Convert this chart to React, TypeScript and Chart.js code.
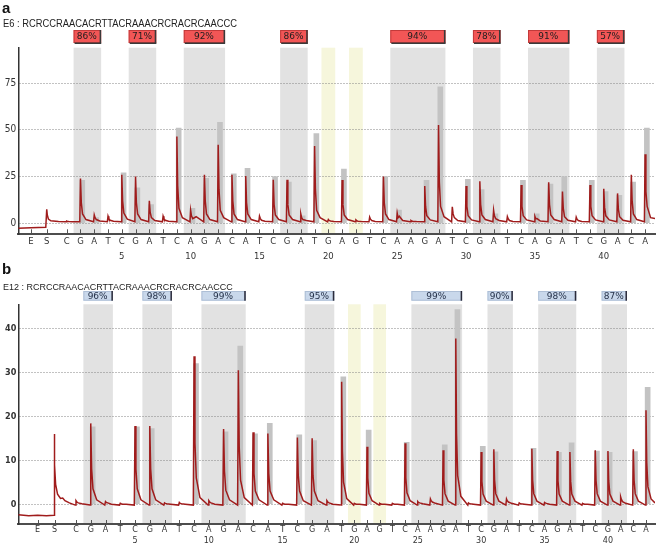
import React, { useEffect, useRef } from 'react';
import { Chart, registerables } from 'chart.js';

Chart.register(...registerables);

// ---------------- data ----------------
const DISPENSATIONS = ['C','G','A','T','C','G','A','T','C','A','G','A','C','A','T','C','G','A','T','G','A','G','T','C','A','A','G','A','T','C','G','A','T','C','A','G','A','T','C','G','A','C','A'];
const PRE_LABELS = ['E', 'S'];
const PRE_POS = [-1.6, -0.45];
const NUMBERED_EVERY = 5;

// dispensation ranges of the shaded (variable) positions
const BANDS: number[][] = [[2, 3], [6, 7], [10, 12], [17, 18], [25, 28], [31, 32], [35, 37], [40, 41]];
const YELLOW_BANDS = [20, 22];

const HEADER_A = 'E6 : RCRCCRAACACRTTACRAAACRCRACRCAACCC';
const HEADER_B = 'E12 : RCRCCRAACACRTTACRAAACRCRACRCAACCC';
const PCT_A = [86, 71, 92, 86, 94, 78, 91, 57];
const PCT_B = [96, 98, 99, 95, 99, 90, 98, 87];

const Y_TICKS_A = [0, 25, 50, 75];
const Y_TICKS_B = [0, 10, 20, 30, 40];

// expected (histogram) heights per dispensation
const HIST_A = [0, 23, 3, 0, 27, 19, 10, 0, 51, 8, 24, 54, 26.5, 29.4, 0, 25, 22, 4, 48, 0, 29, 0, 0, 25, 7, 0, 23, 73, 0, 23.5, 18, 5, 0, 23, 5, 21, 25, 0, 23, 17, 15, 22, 51];
const HIST_B = [0, 17.6, 0, 0, 17.6, 17.2, 0, 0, 32, 0, 16.5, 36, 16, 18.4, 0, 15.8, 14.5, 0, 29, 0, 16.9, 0, 0, 14.1, 0, 0, 13.5, 44.3, 0, 13.2, 11.9, 0, 0, 12.7, 0, 11.8, 14, 0, 12.1, 11.8, 0, 12, 26.6];

// trace per dispensation: [peak, fall 1, fall 2, tail]
const PEAKS_A = [
  [1.2, 1.0, 0.9, 0.8], [24, 11, 5, 2], [4.5, 3, 2, 1.2], [3.8, 2.5, 1.6, 1.1], [26, 12, 5.5, 2.2],
  [25, 11, 5, 2], [12, 6, 3, 1.5], [3.8, 2.5, 1.6, 1.1], [46.4, 20, 8, 3], [7, 4, 2.5, 3.5],
  [26, 12, 5, 2], [42, 18, 7, 3], [26, 12, 5, 2], [25.3, 11, 5, 2], [3.8, 2.5, 1.6, 1.1],
  [23.3, 10, 4.5, 2], [23.3, 10, 4.5, 2], [5, 3, 2, 1.5], [41.4, 18, 7, 3], [2, 1.5, 1.2, 1],
  [23.2, 10, 4.5, 2], [1.8, 1.4, 1.1, 0.9], [3.3, 2.2, 1.5, 1], [25, 11, 5, 2], [5.4, 3, 3.8, 1.5],
  [1.5, 1.2, 1, 0.9], [20, 9, 4, 1.8], [52.6, 22, 9, 3.5], [8.8, 5, 3, 1.5], [20, 9, 4, 1.8],
  [22.5, 10, 4.5, 2], [7, 4, 2.5, 1.5], [3.6, 2.4, 1.5, 1], [20.5, 9, 4, 1.8], [3.6, 2.4, 2.5, 1.2],
  [22, 10, 4.5, 2], [17, 8, 3.5, 1.6], [3.3, 2.2, 1.5, 1], [20.5, 9, 4, 1.8], [18.5, 8.5, 4, 1.8],
  [16, 7.5, 3.5, 1.6], [26, 12, 5, 2], [37, 17, 9, 3],
];
const PEAKS_B = [
  [0.8, 0.5, 0.3, 0.1], [18.4, 8, 3.5, 1], [0.6, 0.4, 0.3, 0], [0.2, 0.1, 0, 0], [17.8, 8, 3.5, 1],
  [17.8, 8, 3.5, 1], [0.3, 0.2, 0.1, 0], [0.4, 0.2, 0.1, 0], [33.7, 14, 6, 1.5], [0.8, 0.5, 0.3, 0],
  [17.1, 7.5, 3.2, 1], [30.5, 13, 5.5, 1.5], [16.4, 7, 3, 1], [16.1, 7, 3, 1], [0.2, 0.1, 0, 0],
  [15.2, 6.5, 3, 0.8], [15, 6.5, 3, 0.8], [0.8, 0.5, 0.3, 0], [27.9, 12, 5, 1.3], [0.2, 0.1, 0, 0],
  [13.1, 6, 2.5, 0.8], [0.2, 0.1, 0, 0], [0.2, 0.1, 0, 0], [13.9, 6, 2.6, 0.8], [0.6, 0.4, 0.3, 0.1],
  [1.2, 0.8, 0.5, 0.2], [12.3, 5.5, 2.4, 0.7], [37.7, 16, 6.5, 1.8], [0.3, 0.2, 0.1, 0], [11.9, 5.2, 2.3, 0.7],
  [12.5, 5.5, 2.4, 0.7], [1.2, 0.8, 0.5, 0.2], [0.3, 0.2, 0.1, 0], [12.6, 5.5, 2.4, 0.7], [0.4, 0.3, 0.2, 0],
  [12.1, 5.3, 2.3, 0.7], [11.9, 5.2, 2.3, 0.7], [0.2, 0.1, 0, 0], [12.3, 5.4, 2.4, 0.7], [12.1, 5.3, 2.3, 0.7],
  [1.7, 1.1, 0.6, 0.2], [12.5, 5.5, 2.4, 0.7], [21.4, 9.5, 4, 1.2],
];
// trace before the first dispensation (E, S) and after the last one: [position, value]
const PRE_A = [[-2.515, -2.6], [-1.6, -2.4], [-0.52, -2.1], [-0.45, 7.5], [-0.41, 4.5], [-0.33, 2.3], [-0.15, 1.3], [0.4, 0.9]];
const END_A = [43.72, 2.5];
const BASE_A = 0.8;
const PRE_B = [[-2.909, -2.4], [-2.2, -2.6], [-1.6, -2.5], [-1.0, -2.6], [-0.49, -2.5], [-0.47, 16], [-0.44, 9], [-0.38, 4.5], [-0.25, 2.3], [-0.05, 1.3], [0.1, 1.4], [0.25, 0.8], [0.55, 0.3]];
const END_B = [43.71, 0.3];
const BASE_B = -0.2;

// ---------------- helpers ----------------
const BAR_SHIFT = 0.13;
const TRACE_COLOR = '#a01c1c';
const BAR_COLOR = '#c3c3c3';
const DISP_POS = DISPENSATIONS.map((_, k) => k + 1);

function buildTrace(pre: number[][], peaks: number[][], base: number, end: number[]) {
  const pts = pre.map(([x, y]) => ({ x, y }));
  peaks.forEach(([p, d1, d2, d3], k) => {
    const i = k + 1;
    pts.push({ x: i - 0.05, y: base }, { x: i, y: p }, { x: i + 0.06, y: d1 }, { x: i + 0.15, y: d2 }, { x: i + 0.4, y: d3 });
  });
  pts.push({ x: end[0], y: end[1] });
  return pts;
}

// label of tick number `index` (E, S, then the dispensation letters; every 5th also numbered)
function labelAt(index: number): any {
  if (index < PRE_LABELS.length) return PRE_LABELS[index];
  const d = index - PRE_LABELS.length + 1;
  const letter = DISPENSATIONS[d - 1] ?? '';
  return d % NUMBERED_EVERY === 0 ? [letter, String(d)] : letter;
}

function xAxis(min: number, max: number, ticks: number[], h: number, size: number, lh: number, display = true) {
  return {
    type: 'linear',
    position: 'bottom',
    display,
    offset: false,
    min,
    max,
    grid: { display: false, drawTicks: false, tickLength: 0, offset: false },
    border: { display: true, color: '#4d4d4d', width: 2 },
    afterBuildTicks: (s: any) => { s.ticks = ticks.map((v) => ({ value: v })); },
    afterFit: (s: any) => { s.height = h; },
    ticks: {
      autoSkip: false,
      maxRotation: 0,
      minRotation: 0,
      padding: 0,
      color: '#333',
      font: { family: "'DejaVu Sans', sans-serif", size, lineHeight: lh / size },
      callback: (_v: number, i: number) => labelAt(i),
    },
  };
}

function yAxis(min: number, max: number, ticks: number[], font: any) {
  return {
    type: 'linear',
    position: 'left',
    min,
    max,
    grid: { display: true, color: '#858585', lineWidth: 1, drawTicks: false, tickLength: 0 },
    border: { display: true, color: '#333', width: 1.5, dash: [1, 2] },
    afterBuildTicks: (s: any) => { s.ticks = ticks.map((v) => ({ value: v })); },
    afterFit: (s: any) => { s.width = 18.3; },
    ticks: { padding: 2, color: '#333', font, autoSkip: false },
  };
}

function decor(ps: any) {
  return {
    id: 'decor',
    beforeDraw(chart: any) {
      const { ctx, chartArea: a } = chart;
      ctx.save();
      ctx.fillStyle = '#e2e2e2';
      BANDS.forEach(([s, e]) => {
        const sc = chart.scales[ps.scaleFor(e)];
        const x0 = sc.getPixelForValue(s - 0.5);
        const x1 = sc.getPixelForValue(e + 0.5);
        ctx.fillRect(x0, a.top, x1 - x0, a.bottom - a.top - 1);
      });
      ctx.fillStyle = '#f6f6dc';
      YELLOW_BANDS.forEach((d) => {
        const sc = chart.scales[ps.scaleFor(d)];
        const x0 = sc.getPixelForValue(d - 0.5);
        const x1 = sc.getPixelForValue(d + 0.5);
        ctx.fillRect(x0, a.top, x1 - x0, a.bottom - a.top - 1);
      });
      ctx.restore();
    },
    afterDraw(chart: any) {
      const { ctx, chartArea: a } = chart;
      ctx.save();
      ctx.strokeStyle = '#555';
      ctx.lineWidth = 1;
      const sx = chart.scales.x;
      sx.ticks.forEach((t: any) => {
        const x = Math.round(sx.getPixelForValue(t.value)) + 0.5;
        ctx.beginPath();
        ctx.moveTo(x, a.bottom - ps.tickLen);
        ctx.lineTo(x, a.bottom - 1);
        ctx.stroke();
      });
      BANDS.forEach(([s, e], k) => {
        const sc = chart.scales[ps.scaleFor(e)];
        const x0 = sc.getPixelForValue(s - 0.5);
        const x1 = sc.getPixelForValue(e + 0.5);
        const w = x1 - x0;
        ctx.fillStyle = ps.boxFill;
        ctx.fillRect(x0, ps.boxTop, w, ps.boxH);
        ctx.strokeStyle = ps.boxStroke;
        ctx.lineWidth = 1;
        ctx.strokeRect(x0 + 0.5, ps.boxTop + 0.5, w - 1, ps.boxH - 1);
        ctx.fillStyle = ps.boxEdge;
        ctx.fillRect(x1 - 1.5, ps.boxTop, 1.5, ps.boxH + (ps.bottomEdge ? 1 : 0));
        if (ps.bottomEdge) ctx.fillRect(x0 + 1, ps.boxTop + ps.boxH - 0.5, w - 1, 1.5);
        ctx.fillStyle = ps.textColor;
        ctx.font = ps.font;
        ctx.textAlign = 'center';
        ctx.textBaseline = 'middle';
        ctx.fillText(ps.pct[k] + '%', (x0 + x1) / 2 - 0.5, ps.boxTop + ps.boxH / 2 + 0.5);
      });
      ctx.restore();
    },
  };
}

const traceStyle = { type: 'line', borderColor: TRACE_COLOR, borderWidth: 1.5, pointRadius: 0, tension: 0, fill: false, order: 0 };
const barStyle = { type: 'bar', backgroundColor: BAR_COLOR, borderWidth: 0, barThickness: 5, grouped: false, order: 1 };

const common = (top: number) => ({
  responsive: false,
  animation: false,
  events: [],
  layout: { padding: { left: 0, right: 5, top, bottom: 0 } },
  plugins: { legend: { display: false }, tooltip: { enabled: false } },
});

function configA(): any {
  const trace = buildTrace(PRE_A, PEAKS_A, BASE_A, END_A);
  const bars = HIST_A.map((h, k) => ({ x: k + 1 + BAR_SHIFT, y: h })).filter((p) => p.y > 0);
  return {
    type: 'line',
    data: {
      datasets: [
        { ...traceStyle, data: trace, xAxisID: 'x', yAxisID: 'y' },
        { ...barStyle, data: bars, xAxisID: 'x', yAxisID: 'y' },
      ],
    },
    options: {
      ...common(47.7),
      scales: {
        x: xAxis(-2.515, 43.72, [...PRE_POS, ...DISP_POS], 33.7, 8.5, 15),
        y: yAxis(-5.9, 94, Y_TICKS_A, { family: "'Liberation Sans Narrow', 'DejaVu Sans Condensed', sans-serif", size: 10 }),
      },
    },
    plugins: [decor({
      scaleFor: () => 'x', tickLen: 5, pct: PCT_A, boxTop: 30, boxH: 13,
      boxFill: '#f25656', boxStroke: '#c23a3a', boxEdge: '#3a3a3a', bottomEdge: true,
      textColor: '#1e1e1e', font: "9px 'DejaVu Sans', sans-serif",
    })],
  };
}

// panel b: the dispensations up to 18 and from 19 on are spaced differently in the reference,
// so the two parts use two linear x scales sharing the same pixel width.
const XB_LEFT = [-2.909, 40.23];
const XB_RIGHT = [-6.5, 43.71];
const SPLIT_B = 18.95;

function configB(): any {
  const trace = buildTrace(PRE_B, PEAKS_B, BASE_B, END_B);
  const left = trace.filter((p) => p.x <= SPLIT_B);
  const right = trace.filter((p) => p.x >= SPLIT_B);
  const bars = HIST_B.map((h, k) => ({ x: k + 1 + BAR_SHIFT, y: h, d: k + 1 })).filter((p) => p.y > 0);
  // tick values of the right part expressed on the displayed (left) scale
  const toLeft = (v: number) => XB_LEFT[0] + (v - XB_RIGHT[0]) * (XB_LEFT[1] - XB_LEFT[0]) / (XB_RIGHT[1] - XB_RIGHT[0]);
  const ticks = [...PRE_POS, ...DISP_POS.map((d) => (d < 19 ? d : toLeft(d)))];
  return {
    type: 'line',
    data: {
      datasets: [
        { ...traceStyle, data: left, xAxisID: 'x', yAxisID: 'y' },
        { ...traceStyle, data: right, xAxisID: 'x2', yAxisID: 'y' },
        { ...barStyle, data: bars.filter((p) => p.d < 19), xAxisID: 'x', yAxisID: 'y' },
        { ...barStyle, data: bars.filter((p) => p.d >= 19), xAxisID: 'x2', yAxisID: 'y' },
      ],
    },
    options: {
      ...common(36.3),
      scales: {
        x: xAxis(XB_LEFT[0], XB_LEFT[1], ticks, 25, 8, 11.5),
        x2: xAxis(XB_RIGHT[0], XB_RIGHT[1], DISP_POS, 0, 8, 11.5, false),
        y: yAxis(-4.5, 45.5, Y_TICKS_B, { family: "'DejaVu Sans Condensed', 'DejaVu Sans', sans-serif", size: 9, weight: 'bold' }),
      },
    },
    plugins: [decor({
      scaleFor: (d: number) => (d < 19 ? 'x' : 'x2'), tickLen: 4, pct: PCT_B, boxTop: 23, boxH: 9.7,
      boxFill: '#c9d8eb', boxStroke: '#aebfd6', boxEdge: '#2b2b3a', bottomEdge: false,
      textColor: '#26324a', font: "9px 'DejaVu Sans', sans-serif",
    })],
  };
}

const letterStyle = (top: number): any => ({
  position: 'absolute', left: 2, top, font: "bold 15px/15px 'Liberation Sans', Arial, sans-serif", color: '#111',
});
const headerStyle = (top: number, size: number, sx: number): any => ({
  position: 'absolute', left: 3, top, font: `${size}px/${size}px 'Liberation Sans', Arial, sans-serif`, color: '#222',
  whiteSpace: 'nowrap', transform: `scaleX(${sx})`, transformOrigin: '0 0',
});

export default function App() {
  const refA = useRef<HTMLCanvasElement>(null);
  const refB = useRef<HTMLCanvasElement>(null);
  useEffect(() => {
    document.body.style.margin = '0';
    const a = new Chart(refA.current as HTMLCanvasElement, configA());
    const b = new Chart(refB.current as HTMLCanvasElement, configB());
    return () => { a.destroy(); b.destroy(); };
  }, []);
  return (
    <div style={{ position: 'relative', width: 660, height: 549, background: '#fff', overflow: 'hidden' }}>
      <canvas ref={refA} width={660} height={268} style={{ position: 'absolute', left: 0, top: 0, width: 660, height: 268 }} />
      <canvas ref={refB} width={660} height={281} style={{ position: 'absolute', left: 0, top: 268, width: 660, height: 281 }} />
      <div style={letterStyle(0)}>a</div>
      <div style={headerStyle(18.8, 10, 0.935)}>{HEADER_A}</div>
      <div style={letterStyle(260.8)}>b</div>
      <div style={headerStyle(281.5, 9.5, 0.945)}>{HEADER_B}</div>
    </div>
  );
}
